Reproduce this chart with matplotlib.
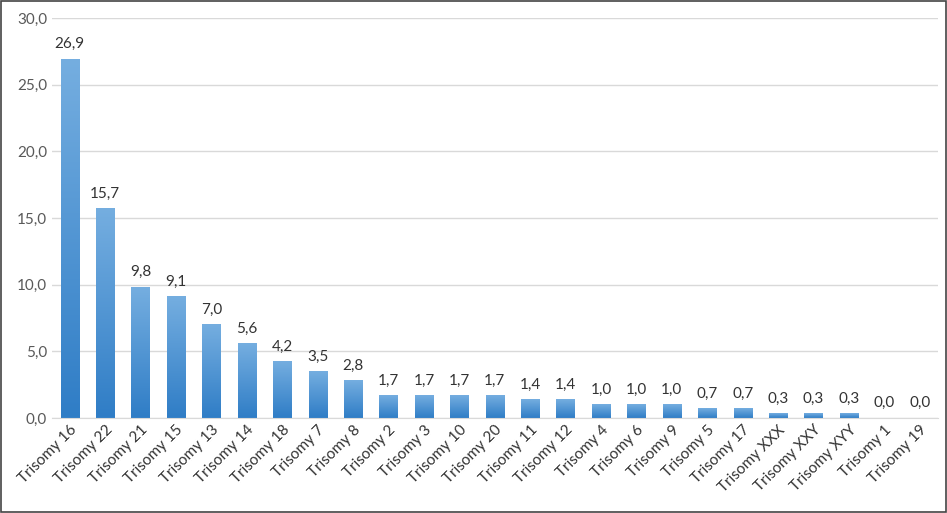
import matplotlib
matplotlib.use("Agg")
import matplotlib.pyplot as plt
import numpy as np
from matplotlib.colors import LinearSegmentedColormap
from matplotlib.patches import Rectangle

categories = ["Trisomy 16","Trisomy 22","Trisomy 21","Trisomy 15","Trisomy 13","Trisomy 14",
              "Trisomy 18","Trisomy 7","Trisomy 8","Trisomy 2","Trisomy 3","Trisomy 10",
              "Trisomy 20","Trisomy 11","Trisomy 12","Trisomy 4","Trisomy 6","Trisomy 9",
              "Trisomy 5","Trisomy 17","Trisomy XXX","Trisomy XXY","Trisomy XYY","Trisomy 1","Trisomy 19"]
values = [26.9,15.7,9.8,9.1,7.0,5.6,4.2,3.5,2.8,1.7,1.7,1.7,1.7,1.4,1.4,1.0,1.0,1.0,0.7,0.7,0.3,0.3,0.3,0.0,0.0]
yticks = [0,5,10,15,20,25,30]

plt.rcParams['font.family'] = ['Lato', 'DejaVu Sans']
fig = plt.figure(figsize=(9.47,5.13), dpi=100)
ax = fig.add_axes([0.055, 0.185, 0.935, 0.78])
fig.patches.append(Rectangle((0.001,0.001),0.998,0.997,transform=fig.transFigure,
                             fill=False,edgecolor='#444444',lw=1.2))
x = np.arange(len(categories))
w = 0.52
cmap = LinearSegmentedColormap.from_list('g', ['#2f7dc6', '#75aee0'])
grad = np.linspace(0,1,256).reshape(-1,1)
for xi, v in zip(x, values):
    if v > 0:
        ax.imshow(grad, cmap=cmap, origin='lower', aspect='auto',
                  extent=(xi-w/2, xi+w/2, 0, v), zorder=2)
    ax.text(xi, v+0.6, f"{v:.1f}".replace('.', ','), ha='center', va='bottom',
            fontsize=11, color='#333333')
ax.set_xlim(-0.5, len(categories)-0.5)
ax.set_ylim(0, 30)
ax.set_yticks(yticks)
ax.set_yticklabels([f"{t:.1f}".replace('.', ',') for t in yticks], fontsize=11, color='#595959')
ax.set_xticks(x)
ax.set_xticklabels(categories, rotation=45, ha='right', rotation_mode='anchor',
                   fontsize=11, color='#333333')
ax.grid(axis='y', color='#d9d9d9', lw=1, zorder=0)
ax.set_axisbelow(True)
for s in ['top','right','left']:
    ax.spines[s].set_visible(False)
ax.spines['bottom'].set_color('#d9d9d9')
ax.tick_params(length=0)
fig.savefig('out.png', dpi=100)
